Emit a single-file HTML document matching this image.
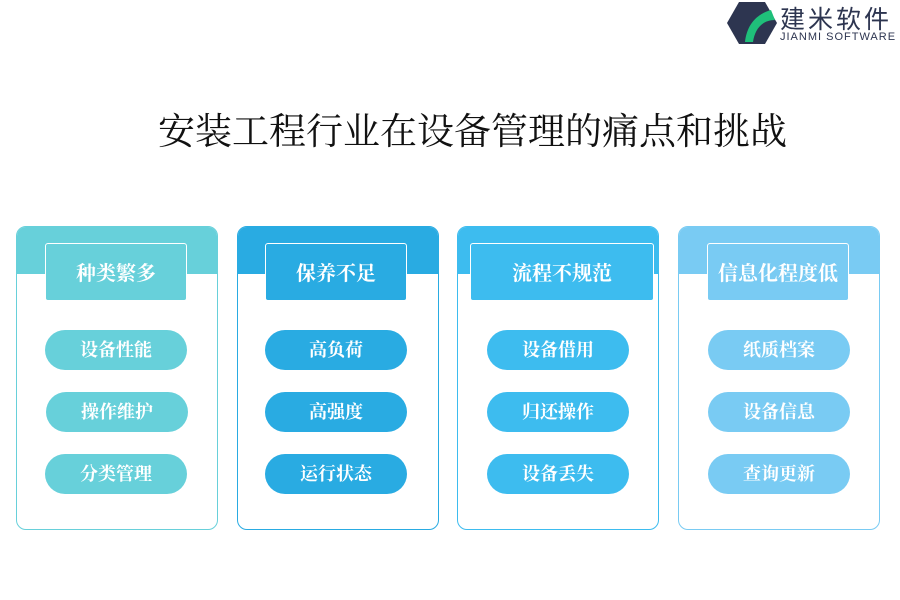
<!DOCTYPE html><html><head><meta charset="utf-8"><style>
body{margin:0;width:900px;height:600px;background:#fff;position:relative;overflow:hidden;font-family:"Liberation Serif","Noto Serif CJK SC",serif}
.t{position:absolute;left:0;width:945px;top:109px;text-align:center;font-size:37px;color:#111;line-height:48px}
.card{position:absolute;top:226px;width:200px;height:302px;border:1.5px solid;border-radius:10px;overflow:hidden;background:#fff}
.band{position:absolute;left:0;top:0;right:0;height:47px}
.hd{position:absolute;top:16px;height:56px;border:1.5px solid #fff;border-radius:3px;color:#fff;font-size:20px;line-height:60px;text-align:center;font-weight:bold}
.p{position:absolute;width:142px;height:40px;border-radius:20px;color:#fff;font-size:18px;line-height:40px;text-align:center;font-weight:bold}
.logo{position:absolute;left:780px;top:0;font-family:"Liberation Sans","Noto Sans CJK SC",sans-serif;color:#2d3550}
</style></head><body>
<svg style="position:absolute;left:725px;top:2px" width="52" height="42"><polygon points="14,0 40,0 52,21 40,42 14,42 2,21" fill="#2d3550"/><path d="M20,40 C22,22 32,12 46,8 L50,18 C38,18 30,26 28,40 Z" fill="#1fbf7a"/></svg>
<div class="logo"><div style="font-size:25px;letter-spacing:3px;position:absolute;top:0;white-space:nowrap">建米软件</div><div style="font-size:11px;position:absolute;top:31px;white-space:nowrap;letter-spacing:1px">JIANMI SOFTWARE</div></div>
<div class="t">安装工程行业在设备管理的痛点和挑战</div>

<div class="card" style="left:16px;border-color:#67d0da"><div class="band" style="background:#67d0da"></div>
<div class="hd" style="left:28px;width:140px;background:#67d0da">种类繁多</div>
<div class="p" style="left:28px;top:103px;background:#67d0da">设备性能</div>
<div class="p" style="left:29px;top:165px;background:#67d0da">操作维护</div>
<div class="p" style="left:28px;top:227px;background:#67d0da">分类管理</div></div>

<div class="card" style="left:237px;border-color:#29abe2"><div class="band" style="background:#29abe2"></div>
<div class="hd" style="left:27px;width:140px;background:#29abe2">保养不足</div>
<div class="p" style="left:27px;top:103px;background:#29abe2">高负荷</div>
<div class="p" style="left:27px;top:165px;background:#29abe2">高强度</div>
<div class="p" style="left:27px;top:227px;background:#29abe2">运行状态</div></div>

<div class="card" style="left:457px;border-color:#3dbcef"><div class="band" style="background:#3dbcef"></div>
<div class="hd" style="left:12px;width:182px;background:#3dbcef">流程不规范</div>
<div class="p" style="left:29px;top:103px;background:#3dbcef">设备借用</div>
<div class="p" style="left:29px;top:165px;background:#3dbcef">归还操作</div>
<div class="p" style="left:29px;top:227px;background:#3dbcef">设备丢失</div></div>

<div class="card" style="left:678px;border-color:#79cbf3"><div class="band" style="background:#79cbf3"></div>
<div class="hd" style="left:28px;width:140px;background:#79cbf3">信息化程度低</div>
<div class="p" style="left:29px;top:103px;background:#79cbf3">纸质档案</div>
<div class="p" style="left:29px;top:165px;background:#79cbf3">设备信息</div>
<div class="p" style="left:29px;top:227px;background:#79cbf3">查询更新</div></div>
</body></html>
